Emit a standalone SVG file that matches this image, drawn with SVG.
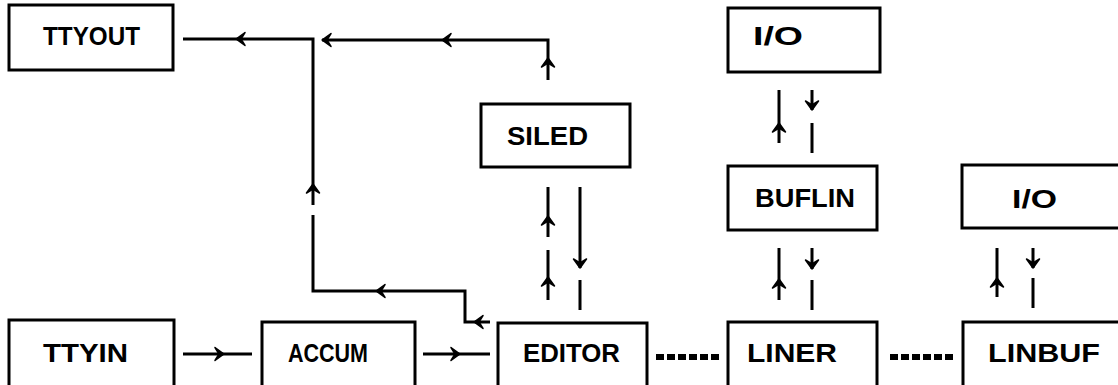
<svg xmlns="http://www.w3.org/2000/svg" xmlns:xlink="http://www.w3.org/1999/xlink" width="1118" height="385" viewBox="0 0 1118 385">
<style>
.box{fill:#fff;stroke:#000;stroke-width:3}
.lbl{font-family:"Liberation Sans",Arial,sans-serif;font-weight:bold;font-size:26px;fill:#000}
.ln{fill:none;stroke:#000;stroke-width:3}
.dot{fill:none;stroke:#000;stroke-width:6;stroke-dasharray:8 3}
</style>
<defs>
<path id="ah" d="M-9,-6.5 L0,0 L-9,6.5 L-5,0 Z" fill="#000" stroke="#000" stroke-width="1.5" stroke-linejoin="round"/>
</defs>
<rect width="1118" height="385" fill="#fff"/>
<g id="connectors">
  <path class="ln" d="M548,80 L548,40 L322,40"/>
  <use xlink:href="#ah" transform="translate(548,58) rotate(-90)"/>
  <use xlink:href="#ah" transform="translate(442,40) rotate(180)"/>
  <use xlink:href="#ah" transform="translate(322,40) rotate(180)"/>
  <path class="ln" d="M490,322 L465,322 L465,291 L313,291 L313,215"/>
  <path class="ln" d="M313,205 L313,39 L183,39"/>
  <use xlink:href="#ah" transform="translate(474,322) rotate(180)"/>
  <use xlink:href="#ah" transform="translate(376,291) rotate(180)"/>
  <use xlink:href="#ah" transform="translate(313,184) rotate(-90)"/>
  <use xlink:href="#ah" transform="translate(236,39) rotate(180)"/>
  <path class="ln" d="M183,354 L252,354"/>
  <use xlink:href="#ah" transform="translate(224,354)"/>
  <path class="ln" d="M423,354 L490,354"/>
  <use xlink:href="#ah" transform="translate(460,354)"/>
  <path class="ln" d="M548,187 L548,237 M548,250 L548,300"/>
  <use xlink:href="#ah" transform="translate(548,216) rotate(-90)"/>
  <use xlink:href="#ah" transform="translate(548,277) rotate(-90)"/>
  <path class="ln" d="M580,187 L580,268 M580,280 L580,310"/>
  <use xlink:href="#ah" transform="translate(580,268) rotate(90)"/>
  <path class="ln" d="M779,90 L779,143"/>
  <use xlink:href="#ah" transform="translate(779,123) rotate(-90)"/>
  <path class="ln" d="M812,90 L812,110 M812,123 L812,153"/>
  <use xlink:href="#ah" transform="translate(812,110) rotate(90)"/>
  <path class="ln" d="M779,248 L779,300"/>
  <use xlink:href="#ah" transform="translate(779,279) rotate(-90)"/>
  <path class="ln" d="M812,248 L812,269 M812,280 L812,310"/>
  <use xlink:href="#ah" transform="translate(812,269) rotate(90)"/>
  <path class="ln" d="M997,248 L997,297"/>
  <use xlink:href="#ah" transform="translate(997,278) rotate(-90)"/>
  <path class="ln" d="M1033,248 L1033,268 M1033,278 L1033,308"/>
  <use xlink:href="#ah" transform="translate(1033,268) rotate(90)"/>
  <path class="dot" d="M656,357 L720,357"/>
  <path class="dot" d="M890,357 L953,357"/>
</g>
<g id="TTYOUT"><rect class="box" x="9" y="5" width="164" height="65"/><text class="lbl" x="43" y="45" textLength="97" lengthAdjust="spacingAndGlyphs">TTYOUT</text></g>
<g id="SILED"><rect class="box" x="481" y="104" width="149" height="63"/><text class="lbl" x="507" y="145" textLength="81" lengthAdjust="spacingAndGlyphs">SILED</text></g>
<g id="IO1"><rect class="box" x="728" y="8" width="152" height="64"/><text class="lbl" x="753" y="45" textLength="50" lengthAdjust="spacingAndGlyphs">I/O</text></g>
<g id="BUFLIN"><rect class="box" x="728" y="166" width="149" height="64"/><text class="lbl" x="755" y="207" textLength="100" lengthAdjust="spacingAndGlyphs">BUFLIN</text></g>
<g id="IO2"><rect class="box" x="962" y="165" width="170" height="63"/><text class="lbl" x="1012" y="208" textLength="45" lengthAdjust="spacingAndGlyphs">I/O</text></g>
<g id="TTYIN"><rect class="box" x="9" y="320" width="165" height="72"/><text class="lbl" x="43" y="362" textLength="85" lengthAdjust="spacingAndGlyphs">TTYIN</text></g>
<g id="ACCUM"><rect class="box" x="262" y="322" width="153" height="70"/><text class="lbl" x="288" y="362" textLength="80" lengthAdjust="spacingAndGlyphs">ACCUM</text></g>
<g id="EDITOR"><rect class="box" x="498" y="323" width="149" height="70"/><text class="lbl" x="523" y="362" textLength="97" lengthAdjust="spacingAndGlyphs">EDITOR</text></g>
<g id="LINER"><rect class="box" x="728" y="322" width="149" height="70"/><text class="lbl" x="747" y="362" textLength="90" lengthAdjust="spacingAndGlyphs">LINER</text></g>
<g id="LINBUF"><rect class="box" x="963" y="322" width="170" height="70"/><text class="lbl" x="988" y="362" textLength="112" lengthAdjust="spacingAndGlyphs">LINBUF</text></g>
</svg>
